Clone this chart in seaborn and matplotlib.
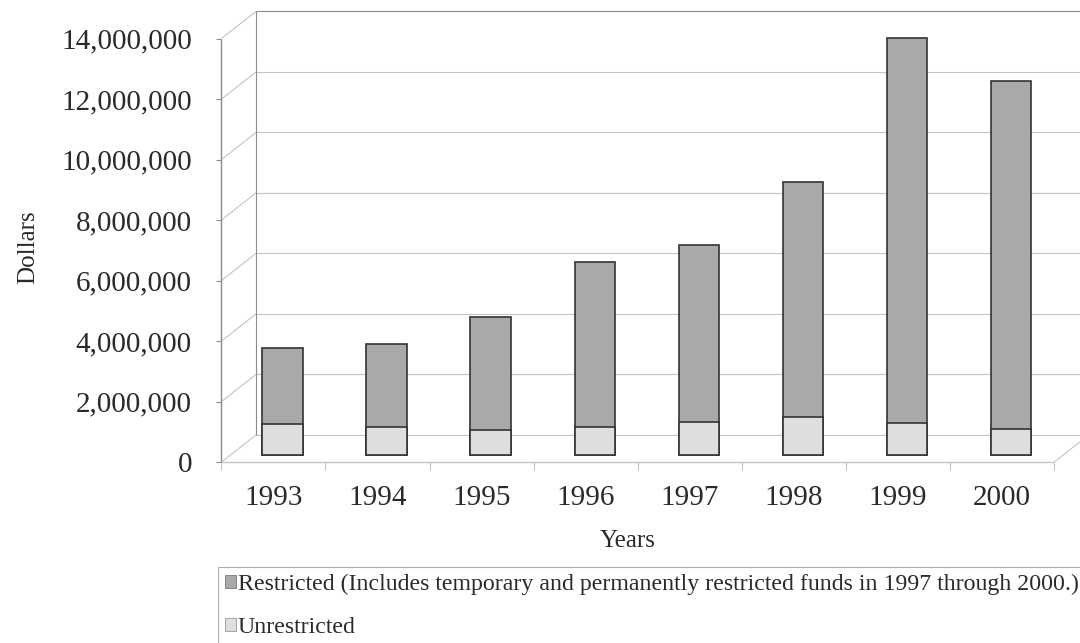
import matplotlib
matplotlib.use("Agg")
import matplotlib.pyplot as plt
from matplotlib.patches import Patch
import seaborn as sns
import pandas as pd

# ---- data -------------------------------------------------------------
years = ["1993", "1994", "1995", "1996", "1997", "1998", "1999", "2000"]
unrestricted = [1010000, 920000, 840000, 940000, 1100000, 1240000, 1060000, 860000]
restricted = [2530000, 2740000, 3720000, 5450000, 5850000, 7780000, 12740000, 11500000]
y_ticks = [0, 2000000, 4000000, 6000000, 8000000, 10000000, 12000000, 14000000]
legend_labels = [
    "Restricted (Includes temporary and permanently restricted funds in 1997 through 2000.)",
    "Unrestricted",
]

# ---- style ------------------------------------------------------------
sns.set_theme(style="white")
plt.rcParams["font.family"] = ["Liberation Serif", "DejaVu Serif"]
TEXT = "#2a2a2a"
REST_C = "#a9a9a9"
UNREST_C = "#dedede"
EDGE_C = "#333333"
GRID_C = "#c4c4c4"
FRAME_C = "#8c8c8c"

W, H = 1080, 643
fig = plt.figure(figsize=(W / 100, H / 100), dpi=100)
ax = fig.add_axes([0, 0, 1, 1])

# pixel layout of the bar plane: category 0 centred at x0, value 0 at y0
x0, cat_px = 282.5, 104.1
y0, px_per_dollar = 455.0, 30.25 / 1e6

# depth vector of the pseudo-3D box (in data units) and the bars' depth
DX = 35.0 / cat_px
DY = 27.5 / px_per_dollar
f = 0.26


def front(x, v):
    return x - f * DX, v - f * DY


def back(x, v):
    return x + (1 - f) * DX, v + (1 - f) * DY


def px_to_data(px, py):
    return (px - x0) / cat_px, (y0 - py) / px_per_dollar


df = pd.DataFrame({"Year": years, "Unrestricted": unrestricted, "Restricted": restricted})
df["Total"] = df["Unrestricted"] + df["Restricted"]

# stacked bars: full total in the restricted colour, unrestricted on top
sns.barplot(data=df, x="Year", y="Total", color=REST_C, saturation=1,
            edgecolor=EDGE_C, linewidth=1.2, width=0.39, ax=ax, zorder=3)
sns.barplot(data=df, x="Year", y="Unrestricted", color=UNREST_C, saturation=1,
            edgecolor=EDGE_C, linewidth=1.2, width=0.39, ax=ax, zorder=4)

n = len(years)
left, right = -0.5, n - 0.5
top = y_ticks[-1]

xl, yb = px_to_data(0, H)
xr, yt = px_to_data(W, 0)
ax.set_xlim(xl, xr)
ax.set_ylim(yb, yt)
ax.axis("off")


def seg(p, q, color=GRID_C, lw=0.8, z=1):
    ax.plot([p[0], q[0]], [p[1], q[1]], color=color, lw=lw, zorder=z,
            solid_capstyle="butt", clip_on=False)


# back wall gridlines and left wall diagonals
for v in y_ticks:
    bl = back(left, v)
    seg(bl, (xr + 0.2, bl[1]), color=FRAME_C if v == top else GRID_C)
    seg(front(left, v), bl)
# box edges
seg(back(left, 0), back(left, top), color=FRAME_C)
seg(front(left, 0), front(left, top), color=FRAME_C, lw=1.0)
seg(front(left, 0), front(right, 0), color=GRID_C, lw=1.0)
seg(front(right, 0), back(right, 0))

# value tick marks and labels on the front axis
tick_dx = 5 / cat_px
lab_x = px_to_data(192, 0)[0]
for v in y_ticks:
    fx, fy = front(left, v)
    seg((fx - tick_dx, fy), (fx, fy), color=FRAME_C)
    ax.text(lab_x, fy, f"{v:,}", ha="right", va="center_baseline",
            fontsize=21, color=TEXT)

# category tick marks and year labels on the front floor edge
tick_dy = 8 / px_per_dollar
for k in range(n + 1):
    fx, fy = front(left + k, 0)
    seg((fx, fy), (fx, fy - tick_dy), color=GRID_C)
year_y = px_to_data(0, 495)[1]
for i, yr in enumerate(years):
    ax.text(front(i, 0)[0], year_y, yr, ha="center", va="center_baseline",
            fontsize=21, color=TEXT)

# axis titles
fig.text(28 / W, 1 - 247 / H, "Dollars", rotation=90, ha="center", va="center",
         fontsize=18, color=TEXT)
fig.text(628 / W, 1 - 541 / H, "Years", ha="center", va="center",
         fontsize=18, color=TEXT)

# legend
handles = [Patch(facecolor=REST_C, edgecolor="#777777", lw=0.6),
           Patch(facecolor=UNREST_C, edgecolor="#999999", lw=0.6)]
leg = fig.legend(handles, legend_labels, loc="upper left",
                 bbox_to_anchor=(218 / W, 1 - 567 / H), frameon=True,
                 fancybox=False, fontsize=17.2, handlelength=0.45,
                 handleheight=0.45, handletextpad=0.08, labelspacing=0.9,
                 borderpad=0.3, borderaxespad=0)
leg.get_frame().set_edgecolor("#9a9a9a")
leg.get_frame().set_linewidth(0.8)
for t in leg.get_texts():
    t.set_color(TEXT)

fig.savefig("out.png", dpi=100)
